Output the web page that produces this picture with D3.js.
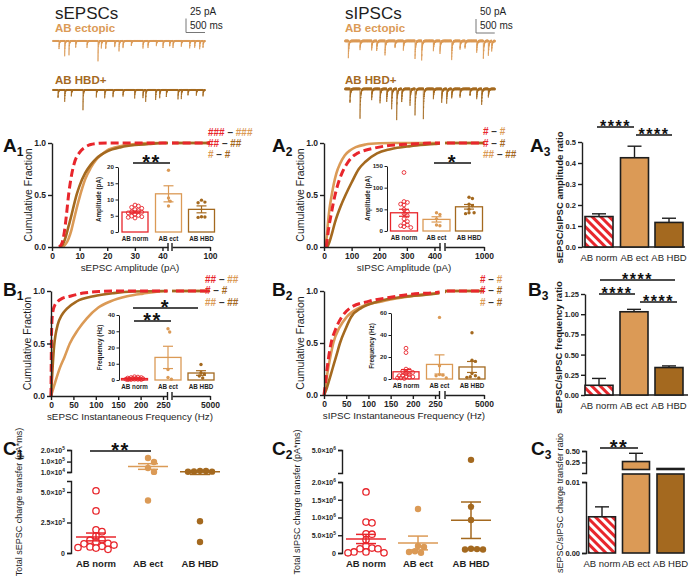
<!DOCTYPE html>
<html><head><meta charset="utf-8">
<script src="https://cdn.jsdelivr.net/npm/d3@7"></script>
<style>body{margin:0;background:#fff}svg{display:block}</style>
</head><body><script>
// ================= DATA =================
const categories = ["AB norm", "AB ect", "AB HBD"];

// example traces: [time (ms), event amplitude (pA)]
const epscEctEvents = [[158,15],[307,27],[421,24],[596,12],[895,12],[1184,38],[1272,12],[1386,15],[1623,12],[1737,18],[1842,13],[2061,9],[2368,12],[2500,11],[2719,9],[2894,12],[3070,9],[3157,13],[3377,9],[3596,12],[3728,11],[3859,15],[3947,13]];
const epscHbdEvents = [[132,15],[307,21],[482,12],[789,36],[1140,12],[1360,15],[1579,12],[1842,12],[2149,15],[2368,13],[2438,23],[2701,17],[2807,15],[2982,13],[3289,18],[3377,15],[3552,9],[3771,11],[3947,12]];
const ipscEctEvents = [[89,60],[400,30],[711,30],[844,36],[1067,48],[1333,24],[1556,30],[1867,65],[2044,71],[2356,36],[2533,42],[2844,71],[3067,30],[3200,24],[3511,42],[3689,65],[3822,54],[3911,36]];
const ipscHbdEvents = [[133,48],[400,107],[711,36],[933,54],[1111,48],[1244,71],[1378,107],[1511,48],[1733,60],[1867,95],[2089,107],[2356,36],[2578,48],[2711,48],[2844,36],[3067,30],[3333,24],[3511,36],[3644,54],[3822,30]];
const traceNoise = [0.6,-0.4,1.1,-0.9,0.2,-1.3,0.8,0.1,-0.6,1.4,-0.2,-1.0,0.5,0.9,-0.8,0.3,-0.3,1.2,-1.1,0.2,0.7,-0.5,1.0,-0.4,0.0,-1.2,0.4,0.8,-0.7,1.3,-0.1,0.5,-0.9];

// cumulative distributions [x, fraction]
const a1Norm = [[2.5,0],[3.5,0.03],[4.5,0.15],[5.2,0.3],[6,0.5],[7,0.68],[8,0.8],[10,0.91],[12,0.96],[14,0.985],[17,0.997],[20,1],[100,1]];
const a1Ect  = [[4,0],[5,0.03],[6,0.08],[7,0.16],[8,0.27],[9,0.38],[10,0.48],[11,0.57],[12,0.65],[14,0.76],[16,0.84],[18,0.89],[20,0.93],[25,0.97],[30,0.99],[35,1],[100,1]];
const a1Hbd  = [[3,0],[4,0.03],[5,0.1],[6,0.2],[7,0.3],[8,0.41],[9,0.51],[10,0.59],[12,0.71],[14,0.79],[16,0.85],[18,0.89],[20,0.92],[25,0.96],[30,0.98],[35,0.99],[40,1],[100,1]];
const a2Norm = [[8,0],[12,0.08],[18,0.2],[25,0.3],[32,0.4],[40,0.5],[50,0.6],[65,0.71],[83,0.8],[100,0.86],[120,0.9],[150,0.93],[180,0.95],[220,0.97],[280,0.985],[350,0.995],[400,1],[1000,1]];
const a2Ect  = [[5,0],[10,0.1],[15,0.25],[20,0.37],[28,0.5],[35,0.6],[45,0.71],[58,0.8],[75,0.88],[95,0.93],[115,0.96],[150,0.985],[200,0.997],[250,1],[1000,1]];
const a2Hbd  = [[12,0],[20,0.05],[30,0.14],[40,0.24],[50,0.32],[60,0.39],[78,0.5],[100,0.62],[126,0.75],[150,0.82],[192,0.9],[240,0.94],[313,0.97],[400,0.99],[450,1],[1000,1]];
const b1Norm = [[0,0],[0.5,0.3],[1,0.55],[2,0.7],[4,0.8],[8,0.86],[15,0.9],[25,0.93],[42,0.95],[72,0.98],[110,0.995],[150,1],[5000,1]];
const b1Ect  = [[0,0],[5,0.07],[10,0.14],[20,0.27],[30,0.37],[42,0.5],[60,0.63],[80,0.74],[105,0.84],[132,0.9],[170,0.95],[205,0.975],[260,1],[5000,1]];
const b1Hbd  = [[0,0],[2,0.15],[4,0.3],[7,0.48],[10,0.58],[15,0.68],[24,0.77],[35,0.83],[57,0.9],[95,0.95],[140,0.98],[183,0.995],[250,1],[5000,1]];
const b2Norm = [[0,0],[3,0.1],[6,0.22],[10,0.35],[16,0.5],[25,0.62],[40,0.75],[60,0.84],[100,0.9],[150,0.94],[197,0.97],[265,0.99],[300,1],[5000,1]];
const b2Ect  = [[0,0],[4,0.1],[8,0.22],[14,0.36],[21,0.5],[35,0.65],[51,0.75],[80,0.84],[130,0.9],[180,0.94],[228,0.97],[300,0.99],[350,1],[5000,1]];
const b2Hbd  = [[0,0],[5,0.05],[10,0.12],[19,0.25],[28,0.38],[36,0.5],[48,0.63],[61,0.75],[85,0.84],[122,0.9],[180,0.945],[242,0.97],[300,0.99],[350,1],[5000,1]];

// inset per-cell values
const ampEpscNorm = [8.3,8.0,7.6,7.3,6.9,6.6,6.3,6.1,5.9,5.5,5.1,4.9,4.7,4.5,4.3];
const ampEpscEct  = [19,10.5,9.5,8];
const ampEpscHbd  = [9.8,9.2,9.0,4.7,4.6,4.5];
const ampIpscNorm = [135,68,66,62,60,50,45,40,35,28,22,18,14,12,10,8];
const ampIpscEct  = [42,38,28,14,12];
const ampIpscHbd  = [78,75,62,58,50,42,42,40];
const frqEpscNorm = [2.0,1.8,1.5,1.5,1.2,1.0,1.0,0.8,0.8,0.6,0.5,0.5,0.4,0.3,0.3,0.2];
const frqEpscEct  = [31.5,29.5,6.5,1.5,0.5];
const frqEpscHbd  = [9.5,4.5,3.8,2.5,1.2];
const frqIpscNorm = [28,24,9,8,7,6,5,4,3,3,2,2,1.5,1,1,0.5];
const frqIpscEct  = [56,12,4,3.5,3,1];
const frqIpscHbd  = [42,17,16,5,3,2,1.5,1];

// ratio bars: mean, SEM
const ampRatioMean = [0.145,0.425,0.117],  ampRatioSem = [0.013,0.055,0.02];
const frqRatioMean = [0.12,1.03,0.34],     frqRatioSem = [0.085,0.03,0.02];
const chgRatioMean = [0.0051,0.27,0.1],    chgRatioSem = [0.0014,0.18,0.01];

// total charge transfer (pA*ms)
const chgEpscNorm = [5100,3450,1900,1750,1400,1100,1050,900,800,750,650,550,500,450,400,300];
const chgEpscEct  = [131000,96000,45000,11000,4300];
const chgEpscHbd  = [20000,18000,15000,13000,12000,2600,900];
const chgIpscNorm = [1720000,870000,850000,540000,530000,370000,200000,140000,120000,120000,30000,30000,5000,5000];
const chgIpscEct  = [1240000,200000,170000,50000,30000,5000];
const chgIpscHbd  = [3800000,1300000,930000,120000,110000,100000,100000];

// tick values
const cumTicks = [0,0.5,1];
const a1Ticks1 = [0,10,20,30,40], a1Ticks2 = [100];
const a2Ticks1 = [0,100,200,300,400], a2Ticks2 = [1000];
const bTicks1 = [0,50,100,150,200,250], bTicks2 = [5000];
const ampRatioTicks = [0,0.1,0.2,0.3,0.4,0.5];
const frqRatioTicks = [0,0.25,0.5,0.75,1,1.25];
const chgRatioLowTicks = [0,0.01], chgRatioUpTicks = [0.25,0.5];
const c1LowTicks = [0,2500,5000], c1UpTicks = [10000,100000,200000];
const c2LowTicks = [0,500000,1000000,1500000,2000000], c2UpTicks = [5000000];

// significance hash rows
const hashA1 = [["###","###"],["##","##"],["#","#"]];
const hashA2 = [["#","#"],["#","#"],["##","##"]];
const hashB1 = [["##","##"],["#","#"],["##","##"]];
const hashB2 = [["#","#"],["#","#"],["#","#"]];

// ================= DRAWING =================
const FONT = '"Liberation Sans", Arial, Helvetica, sans-serif';
const RED = "#e8262c", TAN = "#db9a56", BROWN = "#a4691f", INK = "#1e1e1e";
const gcol = [RED, TAN, BROWN];
const hashCols = [[RED,TAN],[RED,BROWN],[TAN,BROWN]];

const svg = d3.select("body").append("svg").attr("width",690).attr("height",577)
  .style("font-family",FONT);
const defs = svg.append("defs");
const pat = defs.append("pattern").attr("id","hatch").attr("patternUnits","userSpaceOnUse")
  .attr("width",6).attr("height",6).attr("patternTransform","rotate(-45)");
pat.append("rect").attr("width",6).attr("height",6).attr("fill","#fff");
pat.append("rect").attr("width",3).attr("height",6).attr("fill",RED);

function styleAxis(g, fs, sw){
  g.attr("font-family",FONT).attr("font-size",fs);
  g.select(".domain").attr("stroke",INK).attr("stroke-width",sw);
  g.selectAll(".tick line").attr("stroke",INK).attr("stroke-width",sw);
  g.selectAll(".tick text").attr("font-weight","bold").attr("fill",INK);
}
function txt(x,y,s,o={}){
  const t = svg.append("text").attr("x",x).attr("y",y).text(s)
    .attr("font-size",o.fs||10).attr("fill",o.fill||INK)
    .attr("font-weight",o.fw||"normal").attr("text-anchor",o.anchor||"start");
  if(o.rot) t.attr("transform",`rotate(${o.rot},${x},${y})`);
  if(o.ls) t.attr("letter-spacing",o.ls);
  return t;
}
function panelLabel(x,y,L,n){
  const t = svg.append("text").attr("x",x).attr("y",y).attr("font-size",19).attr("font-weight","bold").attr("fill","#111").text(L);
  t.append("tspan").attr("font-size",12).attr("dy",4).text(n);
}
function sig(x1,x2,y,s,fs){
  svg.append("line").attr("x1",x1).attr("x2",x2).attr("y1",y).attr("y2",y).attr("stroke","#111").attr("stroke-width",1.6);
  txt((x1+x2)/2, y+fs*0.3, s, {fs:fs, fw:"bold", anchor:"middle", fill:"#111", ls:1.5});
}
function hashRows(x,ys,rows){
  rows.forEach((r,i)=>{
    const t = svg.append("text").attr("x",x).attr("y",ys[i]).attr("font-size",10).attr("font-weight","bold");
    t.append("tspan").attr("fill",hashCols[i][0]).text(r[0]);
    t.append("tspan").attr("fill","#333").text(" \u2013 ");
    t.append("tspan").attr("fill",hashCols[i][1]).text(r[1]);
  });
}
// bounded beeswarm: spreads points sideways within +-maxOff, overlapping when crowded
function swarm(vals, ys, cx, minD, step, maxOff){
  const pts = vals.map(v=>({v, y:ys(v)})).sort((a,b)=>a.y-b.y);
  const placed = [];
  pts.forEach(p=>{
    let best = null, bestD = -1;
    for(let k=0;k<200;k++){
      const off = (k%2?1:-1)*Math.ceil(k/2)*step;
      if(Math.abs(off)>maxOff) break;
      const x = cx+off;
      const d = placed.length ? d3.min(placed,q=>Math.hypot(q.x-x,q.y-p.y)) : 1e9;
      if(d>=minD){ best = x; bestD = 1e9; break; }
      if(d>bestD){ bestD = d; best = x; }
    }
    p.x = best; placed.push(p);
  });
  return placed;
}

// ---------- traces ----------
function trace(o){
  const xs = d3.scaleLinear().domain([0,4000]).range([o.x0,o.x1]);
  const ys = d3.scaleLinear().domain([0,-100]).range([o.y, o.y+100*o.k]);
  const pts = [];
  for(let t=0;t<=4000;t+=1){
    let v = traceNoise[t%traceNoise.length]*o.noise;
    for(const [t0,a] of o.events){ if(t>=t0 && t-t0<o.tau*7) v -= a*Math.exp(-(t-t0)/o.tau); }
    pts.push([t,v]);
  }
  svg.append("path").datum(pts).attr("d",d3.line().x(d=>xs(d[0])).y(d=>ys(d[1])))
    .attr("fill","none").attr("stroke",o.color).attr("stroke-width",0.75);
  return {xs, ys};
}
txt(55,19,"sEPSCs",{fs:17});
txt(345,19,"sIPSCs",{fs:17});
txt(55,32,"AB ectopic",{fs:11.5,fw:"bold",fill:TAN});
txt(55,84,"AB HBD+",{fs:11.5,fw:"bold",fill:BROWN});
txt(345,32,"AB ectopic",{fs:11.5,fw:"bold",fill:TAN});
txt(345,84,"AB HBD+",{fs:11.5,fw:"bold",fill:BROWN});
const tE = trace({x0:53,x1:205,y:41,k:0.56,events:epscEctEvents,noise:1.3,tau:10,color:TAN});
trace({x0:53,x1:205,y:90,k:0.56,events:epscHbdEvents,noise:1.3,tau:10,color:BROWN});
const tI = trace({x0:345,x1:495,y:41,k:0.28,events:ipscEctEvents,noise:3.5,tau:15,color:TAN});
trace({x0:345,x1:495,y:89,k:0.28,events:ipscHbdEvents,noise:3.5,tau:15,color:BROWN});
function scaleBar(x,yb,tr,pA,lab1){
  const h = tr.ys(-pA)-tr.ys(0), w = tr.xs(500)-tr.xs(0);
  svg.append("path").attr("d",`M${x},${yb-h}V${yb}H${x+w}`).attr("fill","none").attr("stroke","#777").attr("stroke-width",1);
  txt(x+4,15,lab1,{fs:10});
  txt(x+4,29,"500 ms",{fs:10});
}
scaleBar(186,32.5,tE,25,"25 pA");
scaleBar(476,33,tI,50,"50 pA");

// ---------- cumulative panels ----------
let clipN = 0;
function cumPanel(o){
  const y = d3.scaleLinear().domain([0,1]).range([o.yBot,o.yTop]);
  const xs1 = d3.scaleLinear().domain(o.d1).range(o.r1);
  const xs2 = d3.scaleLinear().domain(o.d2).range(o.r2);
  const x = d3.scaleLinear().domain([...o.d1,...o.d2]).range([...o.r1,...o.r2]);
  const id = "cp"+(clipN++);
  const cp = defs.append("clipPath").attr("id",id);
  cp.append("rect").attr("x",o.r1[0]-3).attr("y",o.yTop-10).attr("width",o.r1[1]-o.r1[0]+3).attr("height",o.yBot-o.yTop+14);
  cp.append("rect").attr("x",o.r2[0]).attr("y",o.yTop-10).attr("width",o.r2[1]-o.r2[0]+4).attr("height",o.yBot-o.yTop+14);
  const line = d3.line().x(d=>x(d[0])).y(d=>y(d[1])).curve(d3.curveMonotoneX);
  const gc = svg.append("g").attr("clip-path",`url(#${id})`);
  o.curves.forEach(c=>{
    gc.append("path").datum(c.data).attr("d",line).attr("fill","none")
      .attr("stroke",c.color).attr("stroke-width",c.dash?3:2.6)
      .attr("stroke-dasharray",c.dash?"8,4":null);
  });
  const gy = svg.append("g").attr("transform",`translate(${o.r1[0]},0)`)
    .call(d3.axisLeft(y).tickValues(cumTicks).tickFormat(d3.format(".1f")).tickSize(4).tickPadding(2).tickSizeOuter(0));
  styleAxis(gy,8.5,1.4);
  [[xs1,o.t1],[xs2,o.t2]].forEach(([s,t])=>{
    const g = svg.append("g").attr("transform",`translate(0,${o.yBot})`)
      .call(d3.axisBottom(s).tickValues(t).tickFormat(d3.format("d")).tickSize(4).tickPadding(2).tickSizeOuter(0));
    styleAxis(g,8.5,1.4);
  });
  [o.r1[1],o.r2[0]].forEach(bx=>svg.append("line").attr("x1",bx).attr("x2",bx)
    .attr("y1",o.yBot-4).attr("y2",o.yBot+4).attr("stroke",INK).attr("stroke-width",1.4));
  txt(o.r1[0]-20,(o.yTop+o.yBot)/2,"Cumulative Fraction",{fs:10.5,anchor:"middle",rot:-90});
  txt(o.titleX,o.yBot+24,o.title,{fs:9.8,anchor:"middle"});
}

function inset(o){
  const y = d3.scaleLinear().domain(o.domain).range([o.y0,o.yTop]);
  const ga = svg.append("g").attr("transform",`translate(${o.ax},0)`)
    .call(d3.axisLeft(y).tickValues(o.ticks).tickSize(2.5).tickPadding(1.5).tickSizeOuter(0));
  styleAxis(ga,6.2,1);
  txt(o.ax-17,(o.y0+o.yTop)/2,o.title,{fs:6.3,fw:"bold",anchor:"middle",rot:-90});
  o.data.forEach((vals,i)=>{
    const cx = o.centers[i], m = d3.mean(vals), s = d3.deviation(vals)/Math.sqrt(vals.length);
    svg.append("rect").attr("x",cx-o.bw/2).attr("y",y(m)).attr("width",o.bw).attr("height",o.y0-y(m))
      .attr("fill","#fff").attr("stroke",gcol[i]).attr("stroke-width",1.3);
    swarm(vals,y,cx,3.4,1.7,o.bw/2-3).forEach(p=>{
      svg.append("circle").attr("cx",p.x).attr("cy",p.y).attr("r",i===0?1.9:1.7)
        .attr("fill",i===0?"none":gcol[i]).attr("stroke",gcol[i]).attr("stroke-width",i===0?0.9:0);
    });
    const e = svg.append("g").attr("stroke",gcol[i]).attr("stroke-width",1.2);
    e.append("line").attr("x1",cx).attr("x2",cx).attr("y1",y(m-s)).attr("y2",y(m+s));
    [m-s,m+s].forEach(v=>e.append("line").attr("x1",cx-5).attr("x2",cx+5).attr("y1",y(v)).attr("y2",y(v)));
    txt(cx,o.y0+9,categories[i],{fs:6.3,fw:"bold",anchor:"middle"});
  });
}

// A1
panelLabel(3,152,"A","1");
cumPanel({yTop:143,yBot:247,d1:[0,42],r1:[52,168],d2:[50,100],r2:[172,210],t1:a1Ticks1,t2:a1Ticks2,
  title:"sEPSC Amplitude (pA)",titleX:130,
  curves:[{data:a1Ect,color:TAN},{data:a1Hbd,color:BROWN},{data:a1Norm,color:RED,dash:true}]});
inset({ax:118,y0:232,yTop:167,domain:[0,20],ticks:[0,5,10,15,20],centers:[135,168.5,201.5],bw:26,
  data:[ampEpscNorm,ampEpscEct,ampEpscHbd],title:"Amplitude (pA)"});
sig(133,170,163,"**",20);
hashRows(208,[136,147,158],hashA1);

// A2
panelLabel(272,152,"A","2");
cumPanel({yTop:143,yBot:247,d1:[0,420],r1:[324,440],d2:[450,1000],r2:[445,484],t1:a2Ticks1,t2:a2Ticks2,
  title:"sIPSC Amplitude (pA)",titleX:404,
  curves:[{data:a2Ect,color:TAN},{data:a2Hbd,color:BROWN},{data:a2Norm,color:RED,dash:true}]});
inset({ax:387,y0:231,yTop:166,domain:[0,150],ticks:[0,50,100,150],centers:[404,436.5,469],bw:27,
  data:[ampIpscNorm,ampIpscEct,ampIpscHbd],title:"Amplitude (pA)"});
sig(434,471,163,"*",20);
hashRows(483,[135,146.5,158],hashA2);

// B1
panelLabel(3,296,"B","1");
cumPanel({yTop:291,yBot:396,d1:[0,260],r1:[51,167.5],d2:[300,5000],r2:[172,210],t1:bTicks1,t2:bTicks2,
  title:"sEPSC Instantaneous Frequency (Hz)",titleX:130,
  curves:[{data:b1Ect,color:TAN},{data:b1Hbd,color:BROWN},{data:b1Norm,color:RED,dash:true}]});
inset({ax:119,y0:380,yTop:315,domain:[0,40],ticks:[0,10,20,30,40],centers:[134.5,168,201],bw:26,
  data:[frqEpscNorm,frqEpscEct,frqEpscHbd],title:"Frequency (Hz)"});
sig(133,198,308,"*",20);
sig(134,171,321,"**",20);
hashRows(205,[282.5,294,305.5],hashB1);

// B2
panelLabel(272,296,"B","2");
cumPanel({yTop:291,yBot:395,d1:[0,260],r1:[324,439.5],d2:[300,5000],r2:[445,484],t1:bTicks1,t2:bTicks2,
  title:"sIPSC Instantaneous Frequency (Hz)",titleX:404,
  curves:[{data:b2Ect,color:TAN},{data:b2Hbd,color:BROWN},{data:b2Norm,color:RED,dash:true}]});
inset({ax:391,y0:379,yTop:313,domain:[0,60],ticks:[0,20,40,60],centers:[406,439.5,472],bw:26,
  data:[frqIpscNorm,frqIpscEct,frqIpscHbd],title:"Frequency (Hz)"});
hashRows(480,[282.5,294,305.5],hashB2);

// ---------- ratio panels ----------
const barFill = ["url(#hatch)", TAN, BROWN];
function ratioPanel(o){
  const y = d3.scaleLinear().domain([0,o.max]).range([o.y0,o.yTop]);
  const ga = svg.append("g").attr("transform",`translate(${o.ax},0)`)
    .call(d3.axisLeft(y).tickValues(o.ticks).tickFormat(d3.format(o.fmt)).tickSize(4).tickPadding(2).tickSizeOuter(0));
  styleAxis(ga,7.5,1.4);
  svg.append("line").attr("x1",o.ax).attr("x2",o.ax+103).attr("y1",o.y0).attr("y2",o.y0).attr("stroke",INK).attr("stroke-width",1.4);
  o.means.forEach((m,i)=>{
    const cx = o.centers[i];
    const e = svg.append("g").attr("stroke",INK).attr("stroke-width",1.4);
    e.append("line").attr("x1",cx).attr("x2",cx).attr("y1",y(m)).attr("y2",y(m+o.sems[i]));
    e.append("line").attr("x1",cx-7).attr("x2",cx+7).attr("y1",y(m+o.sems[i])).attr("y2",y(m+o.sems[i]));
    svg.append("rect").attr("x",cx-14).attr("y",y(m)).attr("width",28).attr("height",o.y0-y(m))
      .attr("fill",barFill[i]).attr("stroke",INK).attr("stroke-width",1.6);
    txt(cx,o.y0+14,categories[i],{fs:9.5,anchor:"middle"});
  });
  txt(o.titleX,(o.y0+o.yTop)/2+3,o.title,{fs:9.5,fw:"bold",anchor:"middle",rot:-90});
}
panelLabel(530,152,"A","3");
ratioPanel({ax:582,y0:247,yTop:142,max:0.5,ticks:ampRatioTicks,fmt:".1f",centers:[599,634.5,669],
  means:ampRatioMean,sems:ampRatioSem,title:"sEPSC/sIPSC amplitude ratio",titleX:563});
sig(597,634,127,"****",16);
sig(636,672,135,"****",16);

panelLabel(528,296,"B","3");
ratioPanel({ax:585,y0:395,yTop:294,max:1.25,ticks:frqRatioTicks,fmt:".2f",centers:[599,634,669],
  means:frqRatioMean,sems:frqRatioSem,title:"sEPSC/sIPSC frequency ratio",titleX:562});
sig(600,675,280,"****",16);
sig(599,635,294,"****",16);
sig(640,677,302,"****",16);

// ---------- charge transfer scatter panels ----------
function sciLabels(g){
  g.selectAll(".tick text").each(function(d){
    const t = d3.select(this); t.text(null);
    if(d===0){ t.text("0"); return; }
    const e = Math.floor(Math.log10(d));
    t.append("tspan").text((d/Math.pow(10,e)).toFixed(1)+"\u00d710");
    t.append("tspan").attr("dy",-3).attr("font-size","0.7em").text(e);
  });
}
function chargePanel(o){
  const Y0 = 553;
  const yp = d3.scaleLinear().domain([0,o.lowMax,o.upMin,o.upMax]).range([Y0,o.lowTop,o.upBot,o.upTop]);
  const yl = d3.scaleLinear().domain([0,o.lowMax]).range([Y0,o.lowTop]);
  const yu = d3.scaleLinear().domain([o.upMin,o.upMax]).range([o.upBot,o.upTop]);
  [[yl,o.lowTicks],[yu,o.upTicks]].forEach(([s,t])=>{
    const g = svg.append("g").attr("transform",`translate(${o.ax},0)`)
      .call(d3.axisLeft(s).tickValues(t).tickSize(4).tickPadding(2).tickSizeOuter(4));
    styleAxis(g,7,1.4); sciLabels(g);
  });
  o.data.forEach((vals,i)=>{
    const cx = o.centers[i], m = d3.mean(vals), s = d3.deviation(vals)/Math.sqrt(vals.length);
    swarm(vals,yp,cx,6,3,20).forEach(p=>{
      svg.append("circle").attr("cx",p.x).attr("cy",p.y).attr("r",3.2)
        .attr("fill",i===0?"#fff":gcol[i]).attr("stroke",gcol[i]).attr("stroke-width",i===0?1.3:0);
    });
    const e = svg.append("g").attr("stroke",gcol[i]).attr("stroke-width",1.5);
    e.append("line").attr("x1",cx-20).attr("x2",cx+20).attr("y1",yp(m)).attr("y2",yp(m));
    e.append("line").attr("x1",cx).attr("x2",cx).attr("y1",yp(m-s)).attr("y2",yp(m+s));
    [m-s,m+s].forEach(v=>e.append("line").attr("x1",cx-10).attr("x2",cx+10).attr("y1",yp(v)).attr("y2",yp(v)));
    txt(cx,567,categories[i],{fs:9.5,fw:"bold",anchor:"middle"});
  });
  txt(o.titleX,502,o.title,{fs:9,anchor:"middle",rot:-90});
}
panelLabel(3,455,"C","1");
chargePanel({ax:71,lowMax:5900,lowTop:481,upMin:10000,upMax:200000,upBot:472,upTop:450,
  lowTicks:c1LowTicks,upTicks:c1UpTicks,centers:[96,148,200],titleX:22,
  data:[chgEpscNorm,chgEpscEct,chgEpscHbd],title:"Total sEPSC charge transfer (pA*ms)"});
sig(90,151,451,"**",20);

panelLabel(272,455,"C","2");
chargePanel({ax:342,lowMax:2000000,lowTop:482,upMin:2200000,upMax:5000000,upBot:473,upTop:450,
  lowTicks:c2LowTicks,upTicks:c2UpTicks,centers:[366,418,471],titleX:300,
  data:[chgIpscNorm,chgIpscEct,chgIpscHbd],title:"Total sIPSC charge transfer (pA*ms)"});

// C3 broken-axis ratio bars
panelLabel(531,455,"C","3");
(function(){
  const ax = 586, Y0 = 553;
  const yl = d3.scaleLinear().domain([0,0.01]).range([Y0,482]);
  const yu = d3.scaleLinear().domain([0.02,0.5]).range([473,451]);
  const gl = svg.append("g").attr("transform",`translate(${ax},0)`)
    .call(d3.axisLeft(yl).tickValues(chgRatioLowTicks).tickFormat(d3.format(".2f")).tickSize(4).tickPadding(2).tickSizeOuter(4));
  styleAxis(gl,7.5,1.4);
  const gu = svg.append("g").attr("transform",`translate(${ax},0)`)
    .call(d3.axisLeft(yu).tickValues(chgRatioUpTicks).tickFormat(d3.format(".2f")).tickSize(4).tickPadding(2).tickSizeOuter(4));
  styleAxis(gu,7.5,1.4);
  const centers = [602,636,670.5];
  chgRatioMean.forEach((m,i)=>{
    const cx = centers[i], top = m+chgRatioSem[i];
    const yOf = v => v<=0.01 ? yl(v) : yu(v);
    const e = svg.append("g").attr("stroke",INK).attr("stroke-width",1.4);
    e.append("line").attr("x1",cx).attr("x2",cx).attr("y1",yOf(m)).attr("y2",yOf(top));
    e.append("line").attr("x1",cx-7).attr("x2",cx+7).attr("y1",yOf(top)).attr("y2",yOf(top));
    if(m<=0.01){
      svg.append("rect").attr("x",cx-13.5).attr("y",yl(m)).attr("width",27).attr("height",Y0-yl(m))
        .attr("fill",barFill[i]).attr("stroke",INK).attr("stroke-width",1.6);
    } else {
      svg.append("rect").attr("x",cx-13.5).attr("y",474).attr("width",27).attr("height",Y0-474)
        .attr("fill",barFill[i]).attr("stroke",INK).attr("stroke-width",1.6);
      const yt = Math.min(yu(m),468.5);
      svg.append("rect").attr("x",cx-13.5).attr("y",yt).attr("width",27).attr("height",469.5-yt)
        .attr("fill",barFill[i]).attr("stroke",INK).attr("stroke-width",1.6);
    }
    txt(cx,567,categories[i],{fs:9.5,anchor:"middle"});
  });
  txt(ax-23,503,"sEPSC/sIPSC charge transfer ratio",{fs:9,anchor:"middle",rot:-90});
  sig(600,638,448,"**",20);
})();
</script></body></html>
